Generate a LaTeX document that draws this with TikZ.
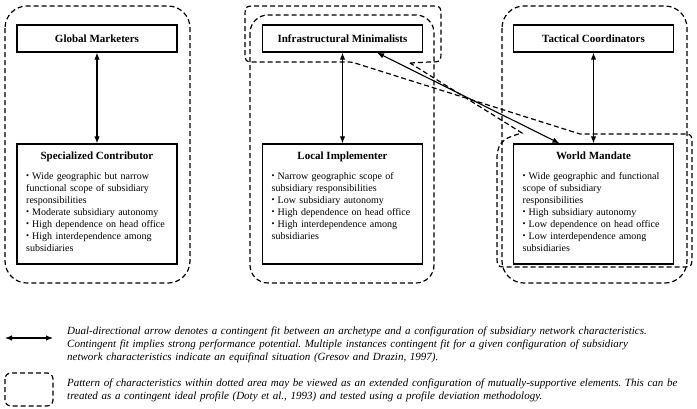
\documentclass[tikz,border=0pt]{standalone}
\usepackage{fontspec}
\setmainfont{Liberation Serif}
\usetikzlibrary{arrows.meta}
\frenchspacing
\newcommand\itm[1]{\hangindent=6pt\hangafter=1\noindent\makebox[6pt][l]{\raisebox{0.4pt}{\scalebox{0.85}{\textbullet}}}#1\par}
\begin{document}
\begin{tikzpicture}[x=1pt,y=-1pt,
  box/.style={draw, line width=1.3pt, minimum width=160pt, inner sep=0pt},
  topbox/.style={box, minimum height=27pt, font=\fontsize{11}{12}\selectfont\bfseries},
  bigbox/.style={box, minimum height=120pt},
  boxtitle/.style={inner sep=0pt, font=\fontsize{11}{12}\selectfont\bfseries},
  boxlist/.style={inner sep=0pt, text width=150pt, align=left, font=\fontsize{10}{12}\selectfont},
  frame/.style={draw=black, line width=1.2pt, dash pattern=on 5pt off 3pt},
  fitarrow/.style={line width=1.1pt, {Latex[length=7pt,width=5.5pt]}-{Latex[length=7pt,width=5.5pt]}},
  legend/.style={inner sep=0pt, text width=630pt, align=left, font=\fontsize{11}{12.7}\selectfont\itshape\frenchspacing}
]
\useasboundingbox (0,0) rectangle (697,408);

% dashed configuration areas
\draw[frame, rounded corners=22pt] (5,6) rectangle (190,283);
\draw[frame, rounded corners=18pt] (250,15) rectangle (434,283);
\draw[frame, rounded corners=22pt] (502,6) rectangle (687,283);
\draw[frame] (410,63) -- (429,62) .. controls (441,62) .. (441,50) -- (441,18)
  .. controls (441,6) .. (429,6) -- (257,6) .. controls (245,6) .. (245,18)
  -- (245,50) .. controls (245,62) .. (257,62) -- (345,62) .. controls (352,62) .. (358,64)
  -- (580,134) -- (680,134) .. controls (692,134) .. (692,146) -- (692,255)
  .. controls (692,267) .. (680,267) -- (509,267) .. controls (497,267) .. (497,255)
  -- (497,158) .. controls (497,140) and (508,137) .. (522,133) -- cycle;

% boxes
\node[topbox] (gm) at (97,38.5) {Global Marketers};
\node[topbox] (im) at (342.5,38.5) {Infrastructural Minimalists};
\node[topbox] (tc) at (593.5,38.5) {Tactical Coordinators};

\node[bigbox] (sc) at (97,204) {};
\node[bigbox] (li) at (342.5,204) {};
\node[bigbox] (wm) at (593.5,204) {};

\node[boxtitle, anchor=base] (sct) at (97,159.5) {Specialized Contributor};
\node[boxtitle, anchor=base] (lit) at (342.5,159.5) {Local Implementer};
\node[boxtitle, anchor=base] (wmt) at (593.5,159.5) {World Mandate};

\node[boxlist, anchor=north west] (scl) at (26,170.6) {\strut
  \itm{Wide geographic but narrow\\functional scope of subsidiary\\responsibilities}
  \itm{Moderate subsidiary autonomy}
  \itm{High dependence on head office}
  \itm{High interdependence among\\subsidiaries}};
\node[boxlist, anchor=north west] (lil) at (271.5,170.6) {\strut
  \itm{Narrow geographic scope of\\subsidiary responsibilities}
  \itm{Low subsidiary autonomy}
  \itm{High dependence on head office}
  \itm{High interdependence among\\subsidiaries}};
\node[boxlist, anchor=north west] (wml) at (522.5,170.6) {\strut
  \itm{Wide geographic and functional\\scope of subsidiary\\responsibilities}
  \itm{High subsidiary autonomy}
  \itm{Low dependence on head office}
  \itm{Low interdependence among\\subsidiaries}};

% contingent fit arrows
\draw[fitarrow] (gm) -- (sc);
\draw[fitarrow] (im) -- (li);
\draw[fitarrow] (tc) -- (wm);
\draw[fitarrow] ([xshift=34.5pt]im.south) -- ([xshift=-34pt]wm.north);

% legend
\coordinate (la) at (5,338);
\coordinate (lb) at (53,338);
\draw[fitarrow] (la) -- (lb);
\draw[frame, rounded corners=6pt] (5,373) rectangle (53,406);
\node[legend, anchor=north west] (t1) at (67,325.6) {\strut Dual-directional arrow denotes a contingent fit between an archetype and a configuration of subsidiary network characteristics.\\
Contingent fit implies strong performance potential. Multiple instances contingent fit for a given configuration of subsidiary\\
network characteristics indicate an equifinal situation (Gresov and Drazin, 1997).};
\node[legend, anchor=north west] (t2) at (67,377.6) {\strut Pattern of characteristics within dotted area may be viewed as an extended configuration of mutually-supportive elements. This can be\\
treated as a contingent ideal profile (Doty et al., 1993) and tested using a profile deviation methodology.};
\end{tikzpicture}
\end{document}
